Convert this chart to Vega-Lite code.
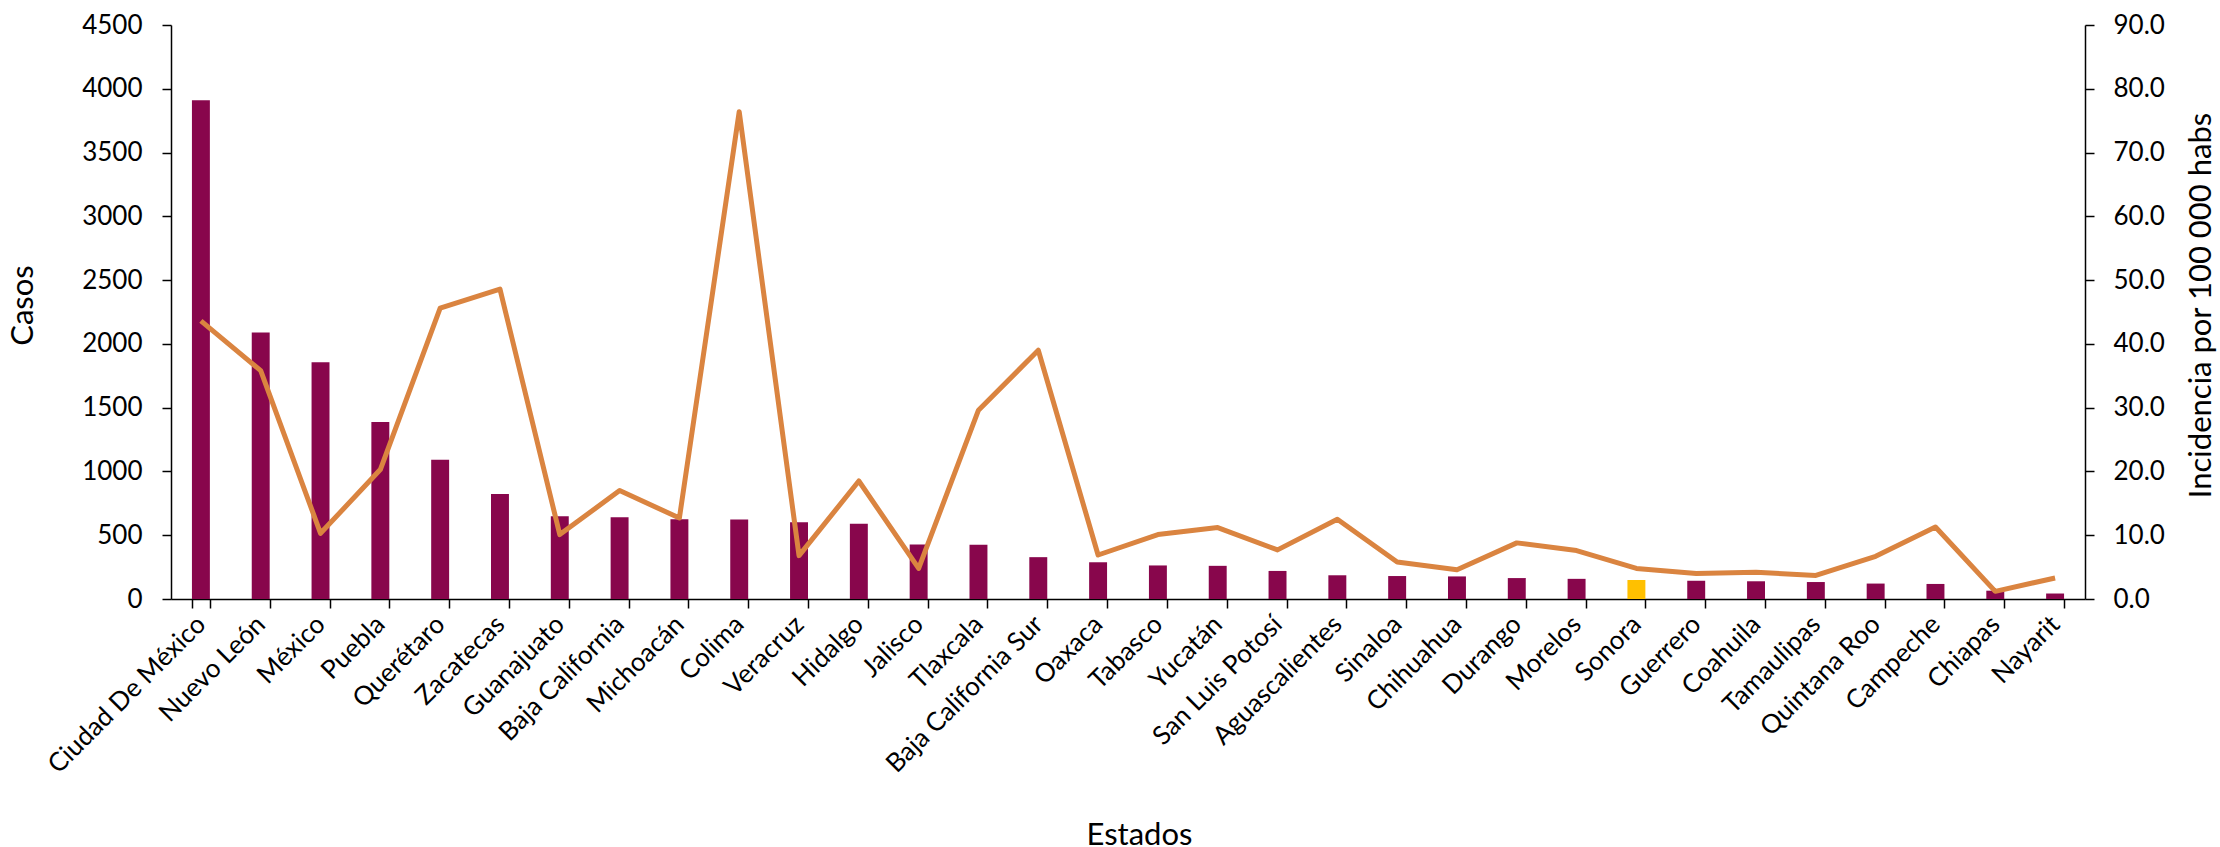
{
  "$schema": "https://vega.github.io/schema/vega-lite/v6.json",
  "width": 1914,
  "height": 574,
  "autosize": {"type": "none"},
  "padding": {"left": 171, "top": 25, "right": 135, "bottom": 248},
  "background": "white",
  "config": {
    "view": {"stroke": null},
    "font": "Lato",
    "axis": {
      "labelFont": "Lato",
      "titleFont": "Lato",
      "labelColor": "#000000",
      "titleColor": "#000000",
      "titleFontWeight": "normal",
      "labelFontSize": 26,
      "titleFontSize": 31,
      "labelLimit": 0,
      "domainColor": "#000000",
      "domainWidth": 1.5,
      "tickColor": "#000000",
      "tickWidth": 1.5,
      "tickSize": 9,
      "grid": false
    }
  },
  "data": {
    "values": [
      {"estado": "Ciudad De México", "casos": 3910, "incidencia": 43.6},
      {"estado": "Nuevo León", "casos": 2090, "incidencia": 35.8},
      {"estado": "México", "casos": 1856, "incidencia": 10.3},
      {"estado": "Puebla", "casos": 1388, "incidencia": 20.3},
      {"estado": "Querétaro", "casos": 1091, "incidencia": 45.6},
      {"estado": "Zacatecas", "casos": 824, "incidencia": 48.6},
      {"estado": "Guanajuato", "casos": 648, "incidencia": 10.1},
      {"estado": "Baja California", "casos": 641, "incidencia": 17.0},
      {"estado": "Michoacán", "casos": 626, "incidencia": 12.7},
      {"estado": "Colima", "casos": 624, "incidencia": 76.4},
      {"estado": "Veracruz", "casos": 601, "incidencia": 6.8},
      {"estado": "Hidalgo", "casos": 589, "incidencia": 18.5},
      {"estado": "Jalisco", "casos": 428, "incidencia": 4.8},
      {"estado": "Tlaxcala", "casos": 425, "incidencia": 29.6},
      {"estado": "Baja California Sur", "casos": 328, "incidencia": 39.0},
      {"estado": "Oaxaca", "casos": 288, "incidencia": 6.9},
      {"estado": "Tabasco", "casos": 263, "incidencia": 10.1},
      {"estado": "Yucatán", "casos": 260, "incidencia": 11.2},
      {"estado": "San Luis Potosí", "casos": 220, "incidencia": 7.7},
      {"estado": "Aguascalientes", "casos": 186, "incidencia": 12.5},
      {"estado": "Sinaloa", "casos": 180, "incidencia": 5.8},
      {"estado": "Chihuahua", "casos": 177, "incidencia": 4.6},
      {"estado": "Durango", "casos": 164, "incidencia": 8.8},
      {"estado": "Morelos", "casos": 158, "incidencia": 7.6},
      {"estado": "Sonora", "casos": 149, "incidencia": 4.8},
      {"estado": "Guerrero", "casos": 143, "incidencia": 4.0},
      {"estado": "Coahuila", "casos": 139, "incidencia": 4.2},
      {"estado": "Tamaulipas", "casos": 133, "incidencia": 3.7},
      {"estado": "Quintana Roo", "casos": 121, "incidencia": 6.7},
      {"estado": "Campeche", "casos": 118, "incidencia": 11.3},
      {"estado": "Chiapas", "casos": 65, "incidencia": 1.2},
      {"estado": "Nayarit", "casos": 43, "incidencia": 3.3}
    ]
  },
  "encoding": {
    "x": {
      "field": "estado",
      "type": "nominal",
      "sort": null,
      "scale": {"paddingInner": 0.7, "paddingOuter": 0.35},
      "axis": {
        "title": "Estados",
        "labelAngle": -45,
        "labelAlign": "right",
        "labelBaseline": "middle",
        "labelPadding": 12,
        "tickBand": "extent",
        "titleX": 968,
        "titleY": 236,
        "titleBaseline": "middle"
      }
    }
  },
  "layer": [
    {
      "mark": {"type": "bar"},
      "encoding": {
        "y": {
          "field": "casos",
          "type": "quantitative",
          "scale": {"domain": [0, 4500], "nice": false},
          "axis": {
            "title": "Casos",
            "values": [0, 500, 1000, 1500, 2000, 2500, 3000, 3500, 4000, 4500],
            "format": "d",
            "labelPadding": 20,
            "titleAngle": -90,
            "titleX": -148,
            "titleY": 280,
            "titleAlign": "center",
            "titleBaseline": "middle"
          }
        },
        "color": {
          "condition": {"test": "datum.estado === 'Sonora'", "value": "#FFC000"},
          "value": "#88064C"
        }
      }
    },
    {
      "mark": {"type": "line", "color": "#DA8440", "strokeWidth": 5, "strokeJoin": "round"},
      "encoding": {
        "y": {
          "field": "incidencia",
          "type": "quantitative",
          "scale": {"domain": [0, 90], "nice": false},
          "axis": {
            "orient": "right",
            "title": "Incidencia por 100 000 habs",
            "values": [0, 10, 20, 30, 40, 50, 60, 70, 80, 90],
            "format": ".1f",
            "labelPadding": 19,
            "titleAngle": -90,
            "titleX": 116,
            "titleY": 280,
            "titleAlign": "center",
            "titleBaseline": "middle"
          }
        }
      }
    }
  ],
  "resolve": {"scale": {"y": "independent"}}
}
